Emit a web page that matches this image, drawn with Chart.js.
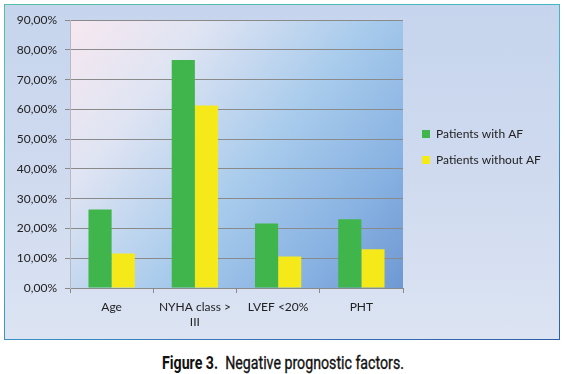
<!DOCTYPE html>
<html>
<head>
<meta charset="utf-8">
<script src="https://cdn.jsdelivr.net/npm/chart.js@4"></script>
<style>
  html, body { margin: 0; padding: 0; background: #ffffff; width: 565px; height: 374px; overflow: hidden; }
  #frame {
    position: absolute; left: 4px; top: 4px; width: 556px; height: 336px;
    background: linear-gradient(160deg, #56c0a4 0%, #3fb4c8 45%, #3a78bc 75%, #2f5fa6 100%);
  }
  #inner {
    position: absolute; left: 1px; top: 1px; width: 554px; height: 334px;
    background: linear-gradient(180deg, #c6d5ed 0%, #cfdaef 50%, #dce4f3 100%);
  }
  #inner canvas { position: absolute; left: 0; top: 0; }
  #caption {
    position: absolute; left: 162px; top: 352px; white-space: nowrap;
    font-family: Roboto, "Liberation Sans", sans-serif; font-size: 18px; color: #111;
    transform-origin: 0 0; line-height: 22px;
  }
  #caption b { font-weight: 700; }
  #caption span.rest { font-weight: 400; -webkit-text-stroke: 0.35px #111; }
</style>
</head>
<body>
<div id="frame"><div id="inner"><canvas id="c" width="554" height="334"></canvas></div></div>
<div id="caption"><b>Figure 3.</b>&nbsp; <span class="rest">Negative prognostic factors.</span></div>
<script>
const categories = ['Age', ['NYHA class >', 'III'], 'LVEF <20%', 'PHT'];
const seriesNames = ['Patients with AF', 'Patients without AF'];
const withAF = [26.4, 76.6, 21.7, 23.1];
const withoutAF = [11.6, 61.3, 10.6, 13.0];
const yTicks = [0, 10, 20, 30, 40, 50, 60, 70, 80, 90];

const FONT = 'Lato';

const plotBg = {
  id: 'plotBg',
  beforeDraw(chart) {
    const {ctx, chartArea: a} = chart;
    const g = ctx.createLinearGradient(a.left, a.top, a.right, a.bottom);
    g.addColorStop(0, '#f7e8f0');
    g.addColorStop(0.25, '#dfe4f3');
    g.addColorStop(0.55, '#a8cbec');
    g.addColorStop(0.8, '#88b2e2');
    g.addColorStop(1, '#6e98d2');
    ctx.save();
    ctx.fillStyle = g;
    ctx.fillRect(a.left, a.top, a.right - a.left, a.bottom - a.top);
    ctx.restore();
  }
};

const legendPlace = {
  id: 'legendPlace',
  beforeInit(chart) {
    const lg = chart.legend;
    if (!lg) return;
    const orig = lg.fit;
    lg.fit = function () { orig.call(this); this.width = 156; };
  },
  afterLayout(chart) {
    const lg = chart.legend;
    lg.left += 5;
    lg.top = 109;
  }
};

new Chart(document.getElementById('c'), {
  type: 'bar',
  data: {
    labels: categories,
    datasets: [
      { label: seriesNames[0], data: withAF, backgroundColor: '#3fb54b', borderWidth: 0 },
      { label: seriesNames[1], data: withoutAF, backgroundColor: '#f6e91a', borderWidth: 0 }
    ]
  },
  options: {
    responsive: false,
    animation: false,
    devicePixelRatio: 1,
    layout: { padding: { top: 15, left: 0, right: 0, bottom: 0 } },
    datasets: { bar: { categoryPercentage: 0.556, barPercentage: 1 } },
    plugins: {
      tooltip: { enabled: false },
      legend: {
        position: 'right',
        align: 'start',
        labels: {
          boxWidth: 8, boxHeight: 8, padding: 14,
          color: '#222', font: { family: FONT, size: 12 }
        }
      }
    },
    scales: {
      x: {
        offset: true,
        grid: { display: true, drawOnChartArea: false, drawTicks: true, tickLength: 5, offset: true, color: '#8a8a8a' },
        border: { display: true, color: '#8a8a8a' },
        ticks: { color: '#222', font: { family: FONT, size: 12, lineHeight: 1.25 }, padding: 7, maxRotation: 0, autoSkip: false },
        afterFit(s) { s.height = 51; }
      },
      y: {
        min: 0, max: 90,
        afterBuildTicks(s) { s.ticks = yTicks.map(v => ({ value: v })); },
        grid: { color: '#8a8a8a', tickLength: 5, drawTicks: true },
        border: { display: true, color: '#b9b9c4' },
        ticks: {
          color: '#222', padding: 8, font: { family: FONT, size: 12 },
          callback: v => v.toFixed(2).replace('.', ',') + '%'
        },
        afterFit(s) { s.width = 65; }
      }
    }
  },
  plugins: [plotBg, legendPlace]
});

// fit caption to its width in the reference
const cap = document.getElementById('caption');
const w = cap.getBoundingClientRect().width;
cap.style.transform = 'scaleX(' + (242 / w) + ')';
</script>
</body>
</html>
